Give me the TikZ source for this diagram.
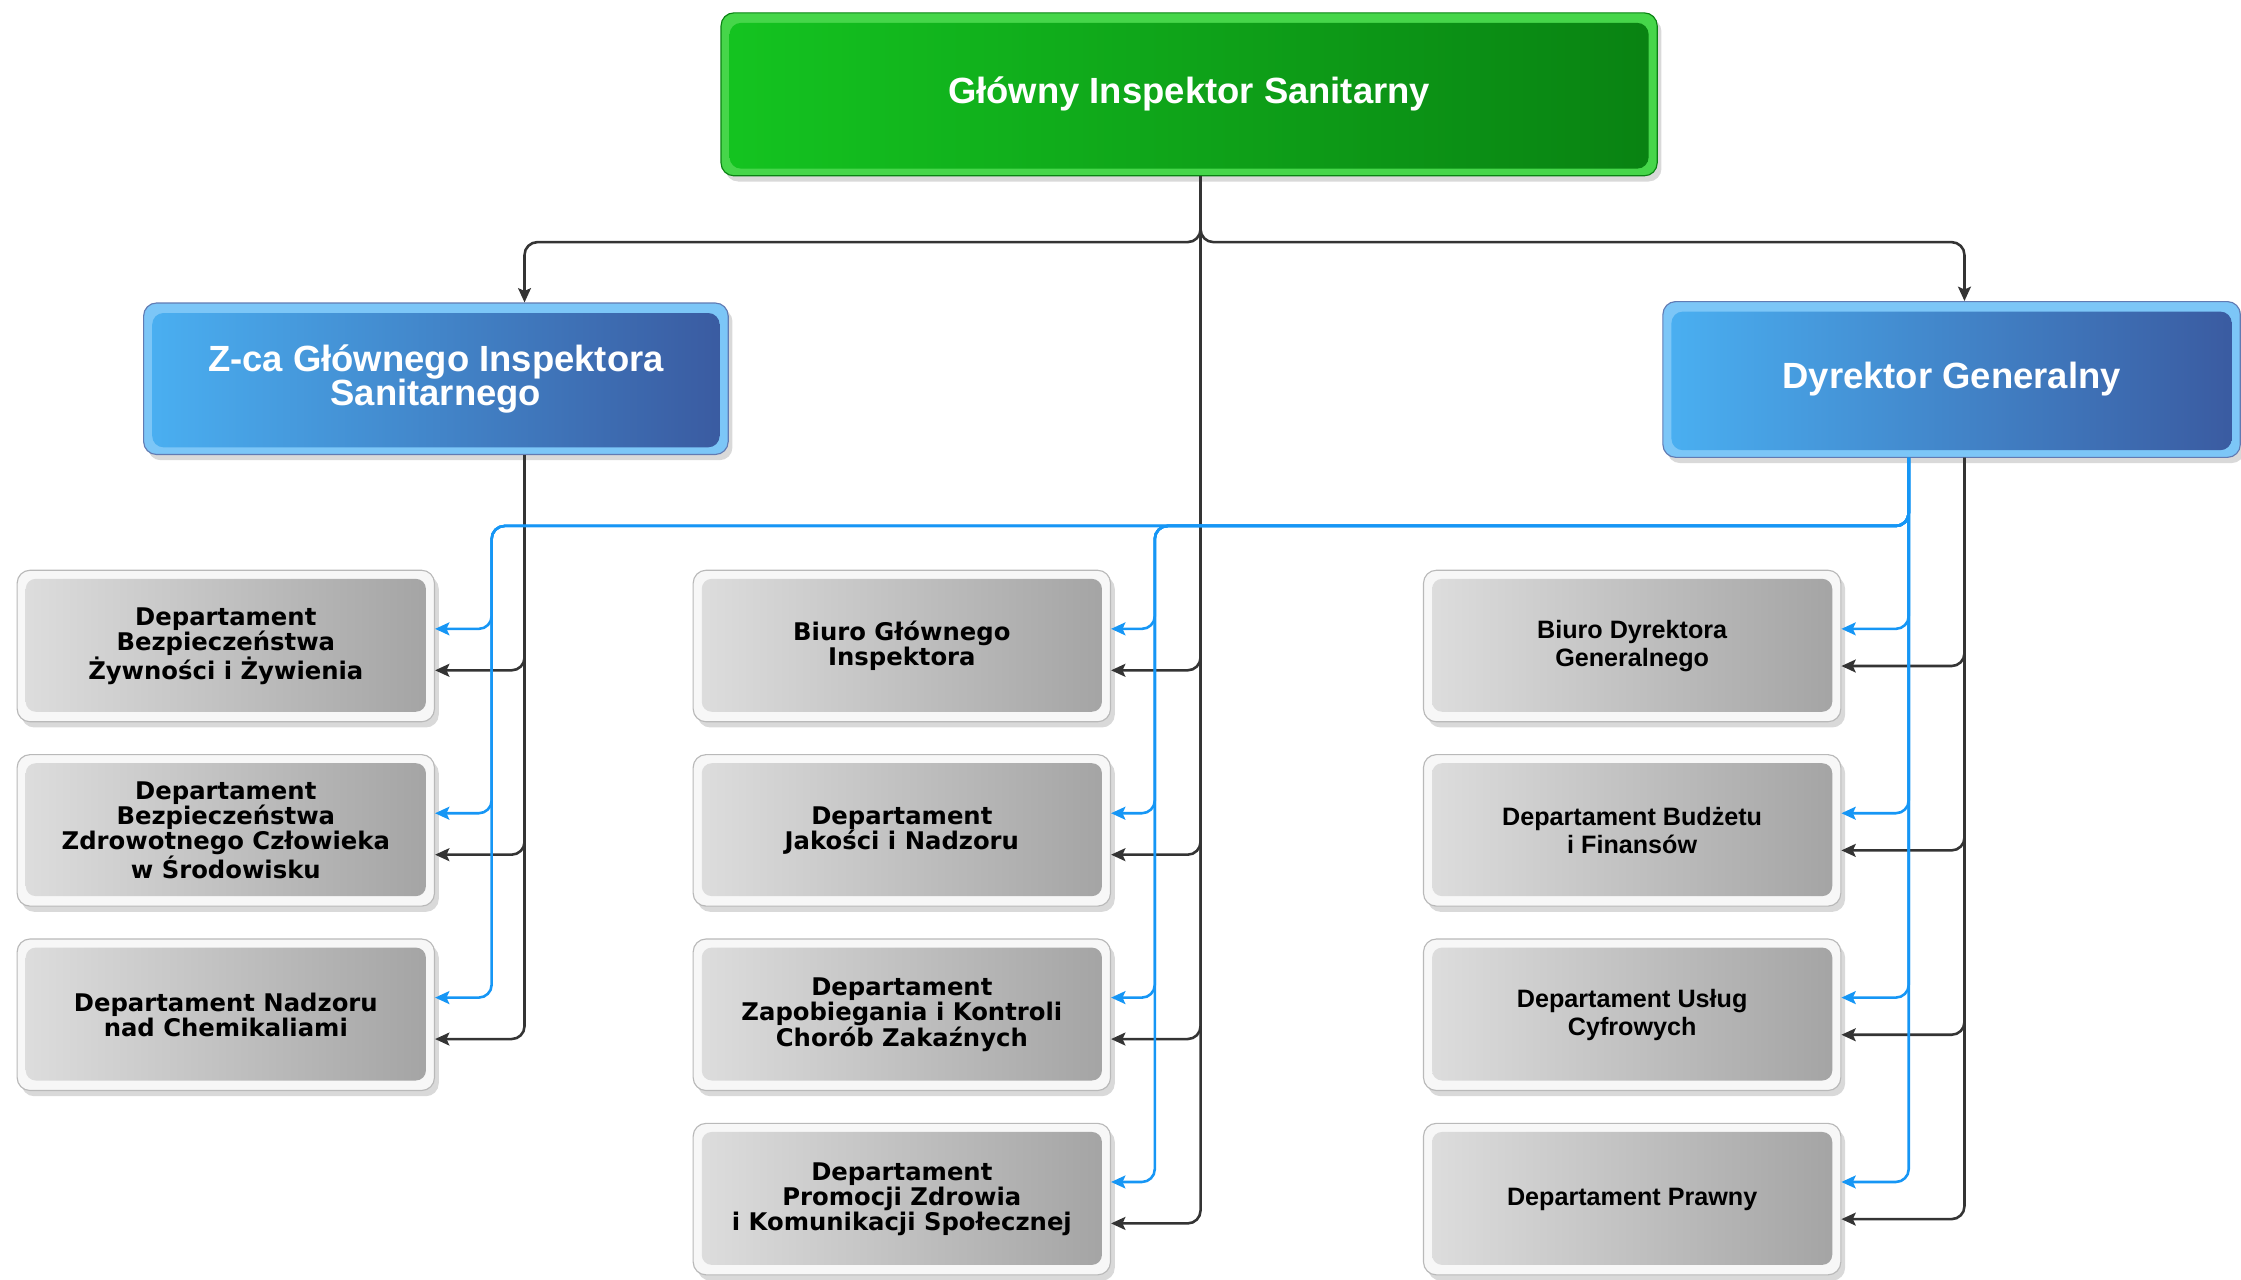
\documentclass[tikz,border=0pt]{standalone}
\usepackage{fontspec}
\setmainfont{Liberation Sans}
\newfontfamily\wideface{DejaVu Sans}
\usepackage{tikz}
\usetikzlibrary{shapes,arrows,arrows.meta,shadows}

\definecolor{linkblue}{RGB}{22,150,245}
\definecolor{linkgray}{RGB}{52,52,52}
\definecolor{greenhi}{RGB}{20,196,32}
\definecolor{greenlo}{RGB}{9,130,18}
\definecolor{greenring}{RGB}{70,214,74}
\definecolor{bluehi}{RGB}{74,176,242}
\definecolor{bluelo}{RGB}{58,90,160}
\definecolor{bluering}{RGB}{124,198,247}

\newcommand{\headfont}{\fontsize{25.5}{24}\selectfont\bfseries}
\newcommand{\widefont}{\fontsize{17}{17.5}\selectfont\wideface\bfseries}
\newcommand{\plainfont}{\fontsize{17.6}{19.5}\selectfont\bfseries}

\tikzstyle{chief} = [rectangle, draw=greenlo, line width=0.8pt, fill=greenring,
    rounded corners=9pt, text=white, font=\headfont, align=center,
    minimum width=655pt, minimum height=114pt,
    drop shadow={opacity=0.3, shadow xshift=3pt, shadow yshift=-4pt},
    path picture={\shade[rounded corners=8pt, left color=greenhi, right color=greenlo]
      ([shift={(6pt,-7pt)}]path picture bounding box.north west) rectangle
      ([shift={(-6pt,5pt)}]path picture bounding box.south east);}]
\tikzstyle{deputy} = [rectangle, draw=bluelo!80, line width=0.8pt, fill=bluering,
    rounded corners=9pt, text=white, font=\headfont, align=center,
    minimum width=405pt, minimum height=106pt,
    drop shadow={opacity=0.3, shadow xshift=3pt, shadow yshift=-4pt},
    path picture={\shade[rounded corners=8pt, left color=bluehi, right color=bluelo]
      ([shift={(6pt,-7pt)}]path picture bounding box.north west) rectangle
      ([shift={(-6pt,5pt)}]path picture bounding box.south east);}]
\tikzstyle{dept} = [rectangle, draw=gray!55, line width=0.8pt, fill=gray!6,
    rounded corners=9pt, text=black, align=center,
    minimum width=292pt, minimum height=106pt,
    drop shadow={opacity=0.3, shadow xshift=3pt, shadow yshift=-4pt},
    path picture={\shade[rounded corners=7pt, left color=black!13, right color=black!36]
      ([shift={(6pt,-6pt)}]path picture bounding box.north west) rectangle
      ([shift={(-6pt,7pt)}]path picture bounding box.south east);}]
\tikzstyle{blk} = [draw=linkgray, line width=1.8pt, rounded corners=9pt,
    -{Stealth[length=10pt, width=9pt, inset=2pt]}]
\tikzstyle{blu} = [draw=linkblue, line width=1.8pt, rounded corners=9pt,
    -{Stealth[length=10pt, width=9pt, inset=2pt]}]

\begin{document}
\begin{tikzpicture}[x=1pt, y=-1pt, node distance=129pt]
\useasboundingbox (0,0) rectangle (1568,895);
% heads
\node [chief] (gis) at (832,66) {Główny Inspektor Sanitarny};
\node [deputy, minimum width=409pt] (zca) at (305,265) {Z-ca Głównego Inspektora\\Sanitarnego};
\node [deputy, minimum width=404pt, minimum height=109pt] (dg) at (1365.5,265.5) {Dyrektor Generalny};
% left column
\node [dept, font=\widefont] (dl1) at (158,452) {Departament\\Bezpieczeństwa\\Żywności i Żywienia};
\node [dept, font=\widefont, below of=dl1] (dl2) {Departament\\Bezpieczeństwa\\Zdrowotnego Człowieka\\w Środowisku};
\node [dept, font=\widefont, below of=dl2] (dl3) {Departament Nadzoru\\nad Chemikaliami};
% centre column
\node [dept, font=\widefont] (dc1) at (631,452) {Biuro Głównego\\Inspektora};
\node [dept, font=\widefont, below of=dc1] (dc2) {Departament\\Jakości i Nadzoru};
\node [dept, font=\widefont, below of=dc2] (dc3) {Departament\\Zapobiegania i Kontroli\\Chorób Zakaźnych};
\node [dept, font=\widefont, below of=dc3] (dc4) {Departament\\Promocji Zdrowia\\i Komunikacji Społecznej};
% right column
\node [dept, font=\plainfont] (dr1) at (1142,452) {Biuro Dyrektora\\Generalnego};
\node [dept, font=\plainfont, below of=dr1] (dr2) {Departament Budżetu\\i Finansów};
\node [dept, font=\plainfont, below of=dr2] (dr3) {Departament Usług\\Cyfrowych};
\node [dept, font=\plainfont, below of=dr3] (dr4) {Departament Prawny};

% black lines
\path [blk] ([xshift=8pt]gis.south) -- ++(0,46) -| ([xshift=62pt]zca.north);
\path [blk] ([xshift=8pt]gis.south) -- ++(0,46) -| ([xshift=9pt]dg.north);
\foreach \i in {1,...,4}
  \path [blk] ([xshift=8pt]gis.south) |- ([yshift=-17pt]dc\i.east);
\foreach \i in {1,...,3}
  \path [blk] ([xshift=62pt]zca.south) |- ([yshift=-17pt]dl\i.east);
\foreach \i in {1,...,4}
  \path [blk] ([xshift=9pt]dg.south) |- ([yshift=-14pt]dr\i.east);

% blue lines
\coordinate (lbus) at (344,368);
\coordinate (cbus) at (808,368);
\foreach \i in {1,...,4}
  \path [blu] ([xshift=-30pt]dg.south) |- ([yshift=12pt]dr\i.east);
\foreach \i in {1,...,4}
  \path [blu] ([xshift=-30pt]dg.south) |- (cbus) |- ([yshift=12pt]dc\i.east);
\foreach \i in {1,...,3}
  \path [blu] ([xshift=-30pt]dg.south) |- (lbus) |- ([yshift=12pt]dl\i.east);
\end{tikzpicture}
\end{document}
